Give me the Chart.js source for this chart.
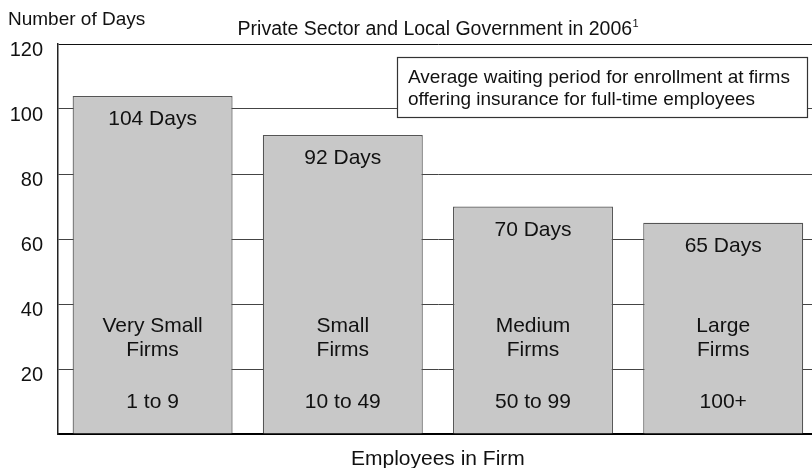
<!DOCTYPE html>
<html>
<head>
<meta charset="utf-8">
<title>Waiting period for enrollment by firm size</title>
<script src="https://cdn.jsdelivr.net/npm/chart.js@4/dist/chart.umd.min.js"></script>
<style>
  html, body { margin: 0; padding: 0; background: #fff; overflow: hidden; }
  #wrap { width: 830px; height: 468px; }
</style>
</head>
<body>
<div id="wrap"><canvas id="waitChart" width="830" height="468"></canvas></div>
<script>
// Data
const firmSizes = [['Very Small', 'Firms'], ['Small', 'Firms'], ['Medium', 'Firms'], ['Large', 'Firms']];
const employeeRanges = ['1 to 9', '10 to 49', '50 to 99', '100+'];
const waitingDays = [104, 92, 70, 65];
const yTickValues = [20, 40, 60, 80, 100, 120];

const FONT = "'Liberation Sans', Arial, sans-serif";
const INK = '#111';

// Texts that Chart.js does not place the way the original does
const labelsPlugin = {
    id: 'labels',
    afterDraw(chart) {
        const { ctx, chartArea } = chart;
        const x = chart.scales.x;
        const y = chart.scales.y;
        const meta = chart.getDatasetMeta(0);
        ctx.save();
        ctx.fillStyle = INK;
        ctx.textBaseline = 'alphabetic';

        // axis title (top left)
        ctx.font = '19px ' + FONT;
        ctx.textAlign = 'left';
        ctx.fillText('Number of Days', 8, 25);

        // y tick labels
        ctx.font = '20px ' + FONT;
        ctx.textAlign = 'right';
        yTickValues.forEach(v => {
            ctx.fillText(String(v), 43, y.getPixelForValue(v) + 11.5);
        });

        // chart title, centred over the plot
        const cx = (chartArea.left + chartArea.right) / 2;
        const title = 'Private Sector and Local Government in 2006';
        ctx.font = '19.5px ' + FONT;
        const tw = ctx.measureText(title).width;
        ctx.font = '11px ' + FONT;
        const sw = ctx.measureText('1').width;
        const tx = cx - (tw + sw) / 2;
        ctx.textAlign = 'left';
        ctx.font = '19.5px ' + FONT;
        ctx.fillText(title, tx, 35);
        ctx.font = '11px ' + FONT;
        ctx.fillText('1', tx + tw + 0.5, 27);

        // value and category labels inside bars
        ctx.textAlign = 'center';
        meta.data.forEach((bar, i) => {
            ctx.font = '21px ' + FONT;
            ctx.fillText(waitingDays[i] + ' Days', bar.x, bar.y + 29);
            ctx.fillText(firmSizes[i][0], bar.x, chartArea.bottom - 102);
            ctx.fillText(firmSizes[i][1], bar.x, chartArea.bottom - 78);
            ctx.fillText(employeeRanges[i], bar.x, chartArea.bottom - 26);
        });

        // x axis title
        ctx.font = '21px ' + FONT;
        ctx.fillText('Employees in Firm', cx, 465);

        // note box
        ctx.fillStyle = '#fff';
        ctx.fillRect(397, 57, 411, 61);
        ctx.strokeStyle = '#333';
        ctx.lineWidth = 1.2;
        ctx.strokeRect(397.5, 57.5, 410, 60);
        ctx.fillStyle = INK;
        ctx.font = '19px ' + FONT;
        ctx.textAlign = 'left';
        ctx.fillText('Average waiting period for enrollment at firms', 408, 83);
        ctx.fillText('offering insurance for full-time employees', 408, 105);
        ctx.restore();
    }
};

function initWaitChart() {
    const ctx = document.getElementById('waitChart');
    if (!ctx) return;

    new Chart(ctx, {
        type: 'bar',
        data: {
            labels: firmSizes.map(f => f.join(' ')),
            datasets: [{
                label: 'Waiting period (days)',
                data: waitingDays,
                backgroundColor: '#c8c8c8',
                borderColor: '#555',
                borderWidth: 1.2,
                borderSkipped: 'bottom',
                categoryPercentage: 1,
                barPercentage: 0.841,
            }],
        },
        options: {
            responsive: false,
            devicePixelRatio: 1,
            animation: false,
            layout: {
                padding: { left: 57.5, right: 11.7, top: 44, bottom: 34 },
            },
            plugins: {
                legend: { display: false },
                tooltip: { enabled: false },
                title: { display: false },
            },
            scales: {
                x: {
                    grid: { display: false, drawTicks: false },
                    ticks: { display: false },
                    border: { display: true, color: '#000', width: 2 },
                },
                y: {
                    min: 0,
                    max: 120,
                    ticks: { display: false, stepSize: 20 },
                    grid: {
                        drawTicks: false,
                        color: ctx => ctx.tick && ctx.tick.value === 120 ? '#111' : '#444',
                        lineWidth: 1,
                    },
                    border: { display: true, color: '#222', width: 1.5 },
                },
            },
        },
        plugins: [labelsPlugin],
    });
}

initWaitChart();
</script>
</body>
</html>
